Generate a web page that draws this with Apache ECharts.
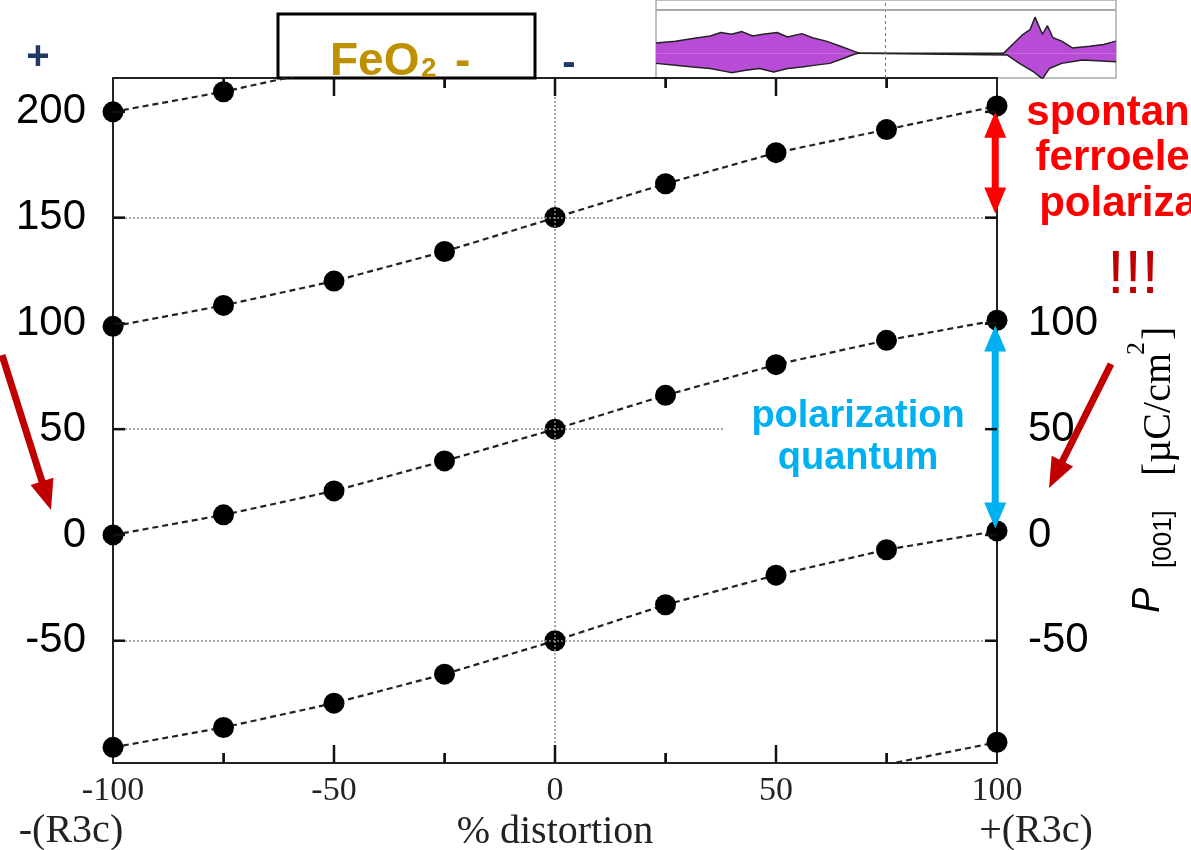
<!DOCTYPE html>
<html><head><meta charset="utf-8">
<script src="https://cdn.jsdelivr.net/npm/echarts@6/dist/echarts.min.js"></script>
<style>html,body{margin:0;padding:0;background:#fff}#c{width:1191px;height:850px}</style>
</head><body><div id="c"></div>
<script>
// ---- data ----
const distortion = [-100, -75, -50, -25, 0, 25, 50, 75, 100];
const branchA = [200, 209.5, 221, null, null, null, null, null, null];
const branchB = [98.6, 108.5, 120, 134, 150, 166, 180.7, 191.6, 202.8];
const branchC = [0, 9.5, 20.8, 35, 50, 66, 80.5, 92, 101.5];
const branchD = [-100.4, -91, -79.5, -65.8, -50, -33, -19, -7, 1.9];
const branchE = [null, null, null, null, null, null, null, -108.5, -98];
const yLabelsLeft = [-50, 0, 50, 100, 150, 200];
const yLabelsRight = [-50, 0, 50, 100];
const xMajorTicks = [-50, 0, 50];
const xMinorTicks = [-75, -25, 25, 75];
const yRange = [-107.8, 216];
const dottedY = [150, 50, -50];
const dottedX = [0];
const spontArrow = [200, 152];      // red double arrow at x=100
const quantumArrow = [99, 3];       // blue double arrow at x=100
// inset waveform (upper / lower envelope) [position %, amplitude]
const waveUpper = [[0,10.5],[4.2,12.3],[8,15.1],[11.8,17.6],[14.1,21.1],[16.4,19.3],[18.7,22.1],[21,17.6],[23.3,19.3],[26.3,21.1],[28.6,16.5],[31.7,20],[34,15.8],[37,12.3],[40.1,7],[43.1,1.8],[44.3,0],[75.6,0],[77.5,8.8],[79.8,19.3],[81.3,24],[82.4,36.9],[84,19.3],[85.1,28.1],[86.3,15.8],[88.2,12.3],[90.5,5.3],[94.3,7],[97.3,8.8],[100,12.3]];
const waveLower = [[0,-10.5],[4.2,-12.3],[8,-14.1],[11.8,-15.8],[16.4,-20],[19.5,-17.6],[22.5,-15.8],[25.6,-19.3],[28.6,-15.8],[31.7,-14.1],[34.7,-12.3],[37.8,-10.5],[40.8,-5.3],[43.1,-1.1],[44.3,0],[76.3,-1.8],[79,-10.5],[82.1,-19.3],[84,-26.4],[85.5,-15.8],[88.2,-10.5],[92.7,-7],[100,-8.8]];
const waveMarker = [49.8];
const waveFrameLine = [44.5];

const chart = echarts.init(document.getElementById('c'), null, {renderer: 'canvas'});
const pts = arr => distortion.map((x, i) => [x, arr[i] == null ? '-' : arr[i]]);
const branchStyle = {
  type: 'line', xAxisIndex: 0, yAxisIndex: 0, clip: true,
  symbol: 'circle', symbolSize: 21, showSymbol: true,
  itemStyle: {color: '#000'},
  lineStyle: {color: '#222', width: 2.2, type: [6, 4]},
  emphasis: {disabled: true}, animation: false
};
const serif = 'Liberation Serif, Times New Roman, serif';
const sans = 'Liberation Sans, Arial, sans-serif';
const axLine = () => ({show: true, onZero: false, lineStyle: {color: '#222', width: 2}});
const xTick = () => ({show: true, inside: true, length: 18, lineStyle: {color: '#222', width: 2}});
const xMinor = () => ({show: true, splitNumber: 2, length: 10, lineStyle: {color: '#222', width: 2}});
const yTick = () => ({show: true, inside: true, length: 12, customValues: yLabelsLeft, lineStyle: {color: '#222', width: 2}});

const option = {
  animation: false,
  backgroundColor: '#fff',
  grid: [
    {left: 113, right: 194, top: 78, bottom: 87, outerBoundsMode: 'none', containLabel: false, show: false},
    {left: 656, right: 75, top: 0, bottom: 772, outerBoundsMode: 'none', containLabel: false, show: true, backgroundColor: 'transparent', borderColor: '#aaa', borderWidth: 1.5}
  ],
  xAxis: [
    {type: 'value', gridIndex: 0, min: -100, max: 100, interval: 50, position: 'bottom',
     axisLine: axLine(), axisTick: xTick(), minorTick: xMinor(),
     axisLabel: {show: true, margin: 11, fontFamily: serif, fontSize: 34, color: '#222'},
     splitLine: {show: false}, minorSplitLine: {show: false},
     name: '% distortion', nameLocation: 'middle', nameGap: 37,
     nameTextStyle: {fontFamily: serif, fontSize: 40, color: '#222'}},
    {type: 'value', gridIndex: 0, min: -100, max: 100, interval: 50, position: 'top',
     axisLine: axLine(), axisTick: xTick(), minorTick: xMinor(),
     axisLabel: {show: false}, splitLine: {show: false}, minorSplitLine: {show: false}},
    {type: 'value', gridIndex: 1, min: 0, max: 100, show: false}
  ],
  yAxis: [
    {type: 'value', gridIndex: 0, min: yRange[0], max: yRange[1], position: 'left',
     axisLine: axLine(), axisTick: yTick(),
     axisLabel: {show: true, customValues: yLabelsLeft, margin: 27, fontFamily: sans, fontSize: 42, color: '#000'},
     splitLine: {show: false}},
    {type: 'value', gridIndex: 0, min: yRange[0], max: yRange[1], position: 'right',
     axisLine: axLine(), axisTick: yTick(),
     axisLabel: {show: true, customValues: yLabelsRight, margin: 31, fontFamily: sans, fontSize: 42, color: '#000'},
     splitLine: {show: false}},
    {type: 'value', gridIndex: 1, min: -25.5, max: 54.5, show: false}
  ],
  series: [
    Object.assign({}, branchStyle, {name: 'A', data: pts(branchA)}),
    Object.assign({}, branchStyle, {name: 'B', data: pts(branchB)}),
    Object.assign({}, branchStyle, {name: 'C', data: pts(branchC),
      markLine: {silent: true, symbol: ['none', 'none'], label: {show: false}, animation: false,
        lineStyle: {color: '#8a8a8a', width: 1.5, type: [2, 2]},
        data: dottedY.map(v => ({yAxis: v})).concat(dottedX.map(v => ({xAxis: v})))}}),
    Object.assign({}, branchStyle, {name: 'D', data: pts(branchD)}),
    Object.assign({}, branchStyle, {name: 'E', data: pts(branchE)}),
    {type: 'line', xAxisIndex: 2, yAxisIndex: 2, data: waveUpper, symbol: 'none', clip: true,
     lineStyle: {color: '#222', width: 1.5}, areaStyle: {color: '#B94CD6', opacity: 1},
     markLine: {silent: true, symbol: ['none', 'none'], label: {show: false}, animation: false,
       data: [{xAxis: waveMarker[0], lineStyle: {color: '#e64545', type: [3, 3], width: 1}},
              {yAxis: waveFrameLine[0], lineStyle: {color: '#aaa', type: 'solid', width: 2}}]}},
    {type: 'line', xAxisIndex: 2, yAxisIndex: 2, data: waveLower, symbol: 'none', clip: true,
     lineStyle: {color: '#222', width: 1.5}, areaStyle: {color: '#B94CD6', opacity: 1}}
  ]
};
chart.setOption(option);

// ---- annotations ----
function arrowHead(tx, ty, ux, uy, hl, hw, color, z) {
  const bx = tx - ux * hl, by = ty - uy * hl, px = -uy, py = ux;
  return {type: 'polygon', z: z, shape: {points: [[tx, ty], [bx + px * hw / 2, by + py * hw / 2], [bx - px * hw / 2, by - py * hw / 2]]}, style: {fill: color}};
}
function arrow(x1, y1, x2, y2, color, w, hl, hw, z) {
  const L = Math.hypot(x2 - x1, y2 - y1), ux = (x2 - x1) / L, uy = (y2 - y1) / L;
  return [
    {type: 'line', z: z, shape: {x1: x1, y1: y1, x2: x2 - ux * (hl - 2), y2: y2 - uy * (hl - 2)}, style: {stroke: color, lineWidth: w}},
    arrowHead(x2, y2, ux, uy, hl, hw, color, z)
  ];
}
function dblArrow(x1, y1, x2, y2, color, w, hl, hw, z) {
  const L = Math.hypot(x2 - x1, y2 - y1), ux = (x2 - x1) / L, uy = (y2 - y1) / L;
  return [
    {type: 'line', z: z, shape: {x1: x1 + ux * (hl - 2), y1: y1 + uy * (hl - 2), x2: x2 - ux * (hl - 2), y2: y2 - uy * (hl - 2)}, style: {stroke: color, lineWidth: w}},
    arrowHead(x2, y2, ux, uy, hl, hw, color, z),
    arrowHead(x1, y1, -ux, -uy, hl, hw, color, z)
  ];
}
const P = (x, y) => chart.convertToPixel({xAxisIndex: 0, yAxisIndex: 0}, [x, y]);
const r1 = P(99.6, spontArrow[0]), r2 = P(99.6, spontArrow[1]);
const b1 = P(99.6, quantumArrow[0]), b2 = P(99.6, quantumArrow[1]);

const T = (text, x, y, font, color, align, base, z) => ({
  type: 'text', z: z == null ? 10 : z, x: x, y: y,
  style: {text: text, font: font, fill: color, align: align || 'center', verticalAlign: base || 'middle'}
});

const g = [];
// frame ticks, placed through the axis scales (drawn as filled rectangles)
const yBot = P(0, yRange[0])[1], yTop = P(0, yRange[1])[1];
const xLeft = P(-100, 0)[0], xRight = P(100, 0)[0];
const vTick = (x, y, h) => ({type: 'rect', z: 20, silent: true, shape: {x: x - 1.25, y: Math.min(y, y + h), width: 2.5, height: Math.abs(h)}, style: {fill: '#111'}});
const hTick = (x, y, w) => ({type: 'rect', z: 20, silent: true, shape: {x: Math.min(x, x + w), y: y - 1.25, width: Math.abs(w), height: 2.5}, style: {fill: '#111'}});
xMajorTicks.forEach(v => { const x = P(v, 0)[0]; g.push(vTick(x, yBot, -18)); g.push(vTick(x, yTop, 18)); });
xMinorTicks.forEach(v => { const x = P(v, 0)[0]; g.push(vTick(x, yBot, -10)); g.push(vTick(x, yTop, 10)); });
yLabelsLeft.forEach(v => { const y = P(0, v)[1]; g.push(hTick(xLeft, y, 12)); g.push(hTick(xRight, y, -12)); });
// top-left box with FeO2 label
g.push({type: 'rect', z: 1, shape: {x: 278, y: 14, width: 257, height: 64}, style: {fill: 'none', stroke: '#000', lineWidth: 3}});
g.push(T('FeO', 330, 62, 'bold 46px ' + sans, '#BF9000', 'left', 'middle', 1));
g.push(T('2', 421, 69, 'bold 28px ' + sans, '#BF9000', 'left', 'middle', 1));
g.push(T('-', 455, 62, 'bold 46px ' + sans, '#BF9000', 'left', 'middle', 1));
g.push(T('+', 38, 58, 'bold 40px ' + sans, '#1F3864'));
g.push(T('-', 569, 64, 'bold 40px ' + sans, '#1F3864'));
// x extra labels
g.push(T('-(R3c)', 71, 831, '40px ' + serif, '#222'));
g.push(T('+(R3c)', 1036, 831, '40px ' + serif, '#222'));
// red text
g.push(T('spontaneous', 1157, 113, 'bold 42px ' + sans, '#FF0000'));
g.push(T('ferroelectric', 1157, 158, 'bold 42px ' + sans, '#FF0000'));
g.push(T('polarization', 1157, 204, 'bold 42px ' + sans, '#FF0000'));
g.push(T('!!!', 1133, 276, '62px ' + sans, '#C00000'));
// polarization quantum box
g.push({type: 'rect', z: 9, shape: {x: 725, y: 381, width: 265, height: 110}, style: {fill: '#fff'}});
g.push(T('polarization', 858, 417, 'bold 38px ' + sans, '#00B0F0'));
g.push(T('quantum', 858, 459, 'bold 38px ' + sans, '#00B0F0'));
// double arrows in plot
dblArrow(r1[0], r1[1], r2[0], r2[1], '#FF0000', 7, 26, 22, 11).forEach(e => g.push(e));
dblArrow(b1[0], b1[1], b2[0], b2[1], '#00B0F0', 7, 26, 22, 11).forEach(e => g.push(e));
// dark red diagonal arrows
arrow(2, 355, 51, 510, '#C00000', 7, 30, 24, 11).forEach(e => g.push(e));
arrow(1111, 364, 1049, 488, '#C00000', 7, 30, 24, 11).forEach(e => g.push(e));
// right axis title  P_[001] [µC/cm^2]  (rotated)
g.push({type: 'group', x: 1148, y: 613, rotation: Math.PI / 2, z: 10, children: [
  {type: 'text', z: 10, x: 0, y: 0, style: {text: 'P', font: 'italic 38px ' + sans, fill: '#000', align: 'left', verticalAlign: 'middle'}},
  {type: 'text', z: 10, x: 45, y: 16, style: {text: '[001]', font: '26px ' + sans, fill: '#000', align: 'left', verticalAlign: 'middle'}},
  {type: 'text', z: 10, x: 137, y: 11, style: {text: '[µC/cm', font: '40px ' + serif, fill: '#000', align: 'left', verticalAlign: 'middle'}},
  {type: 'text', z: 10, x: 258, y: -11, style: {text: '2', font: '26px ' + serif, fill: '#000', align: 'left', verticalAlign: 'middle'}},
  {type: 'text', z: 10, x: 273, y: 11, style: {text: ']', font: '40px ' + serif, fill: '#000', align: 'left', verticalAlign: 'middle'}}
]});
chart.setOption({graphic: {elements: g}});
</script>
</body></html>
